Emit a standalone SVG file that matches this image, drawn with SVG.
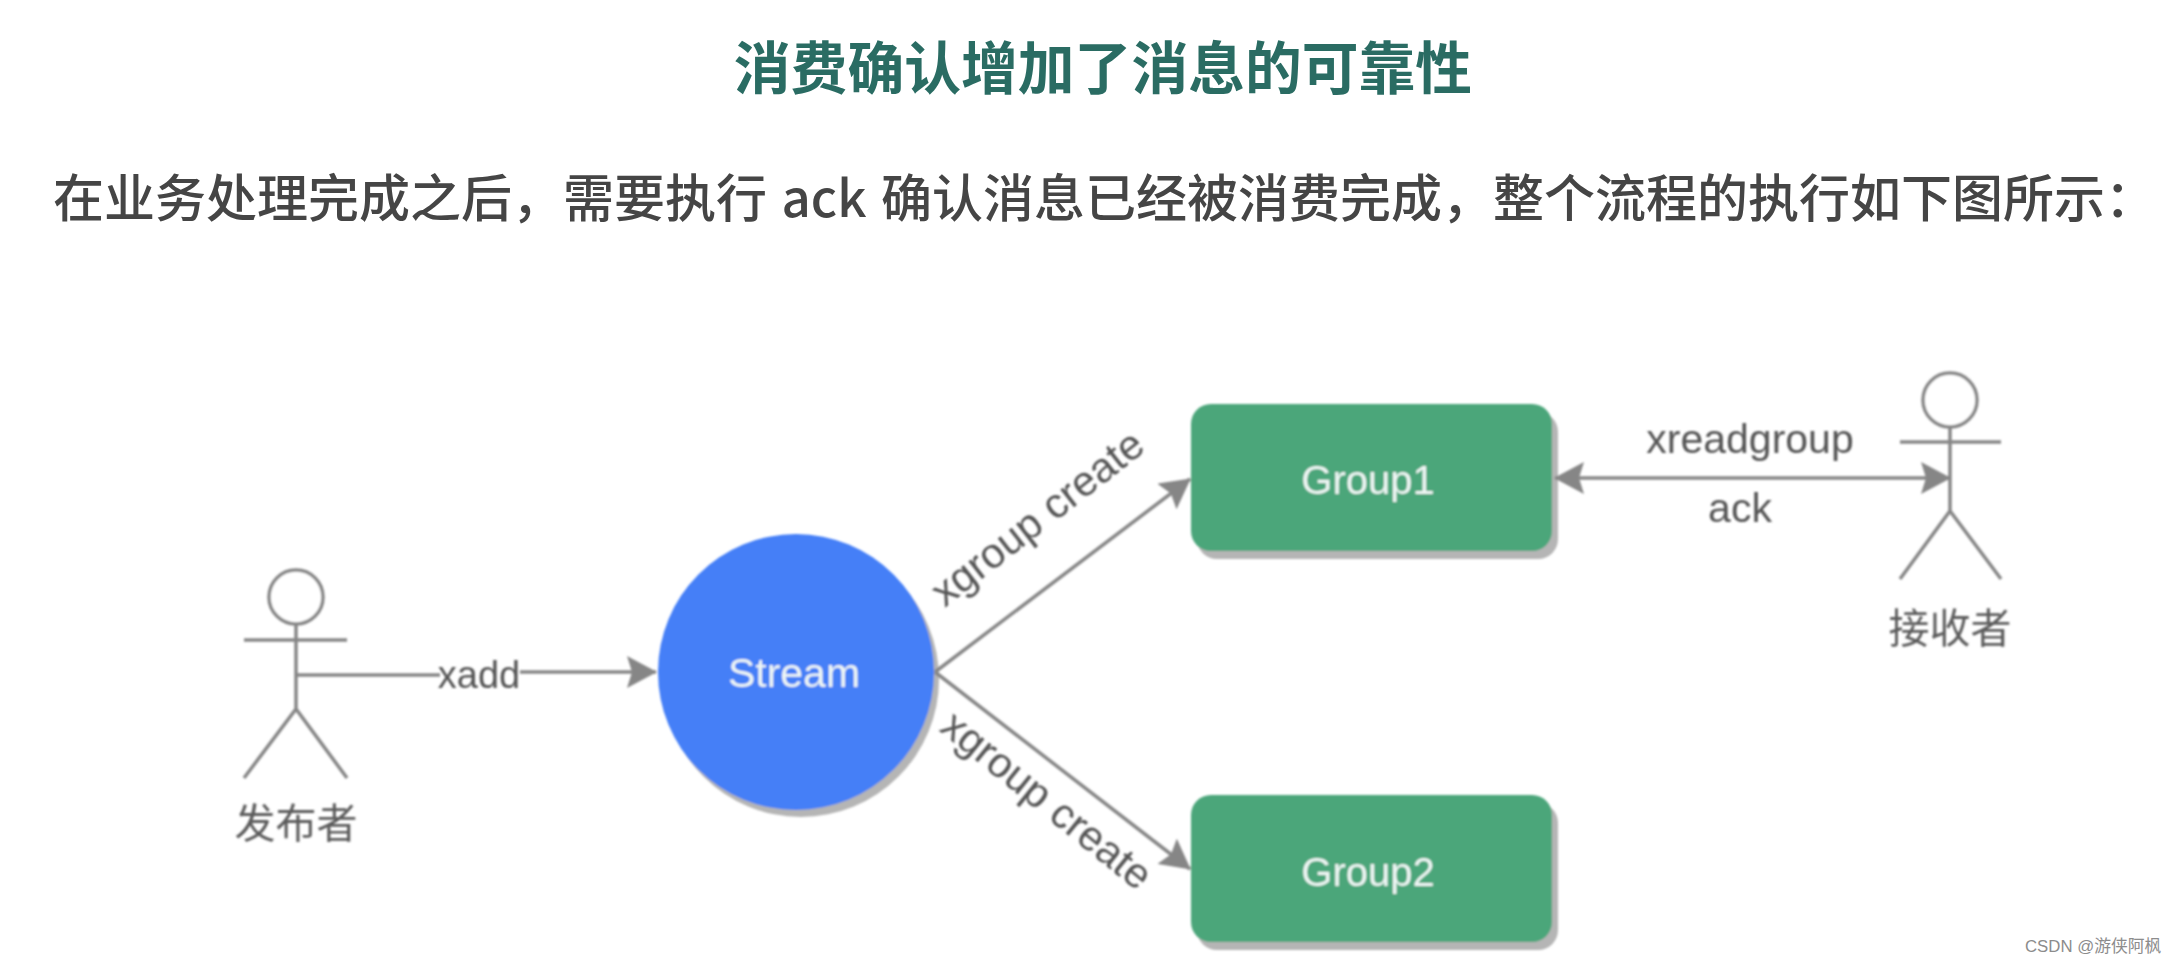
<svg xmlns="http://www.w3.org/2000/svg" width="2176" height="964" viewBox="0 0 2176 964">
<style>
text{font-family:"Liberation Sans","Noto Sans CJK SC",sans-serif}
.cjk{font-family:"Noto Sans CJK SC",sans-serif}
.lbl{font-size:38px;fill:#555;text-anchor:middle}
.lbl2{font-size:41px;fill:#555;text-anchor:middle}
.lbl3{font-size:42px;fill:#555;text-anchor:middle}
.wt{font-size:40px;fill:#eef6f4;text-anchor:middle}
.actor{fill:#5c5c5c;font-size:41px;text-anchor:middle}
.stick{fill:#fff;stroke:#868686;stroke-width:3.5}
.stick2{fill:none;stroke:#868686;stroke-width:3.5}
.conn{fill:none;stroke:#868686;stroke-width:3.5}
.grp{fill:#4ba67a}
.shadow{fill:#b5b5b5}
</style>
<defs>
<marker id="end" markerUnits="userSpaceOnUse" markerWidth="30" markerHeight="32" refX="29" refY="16" orient="auto"><path d="M0 0L30 16L0 32L5 16Z" fill="#868686"/></marker>
<marker id="start" markerUnits="userSpaceOnUse" markerWidth="30" markerHeight="32" refX="1" refY="16" orient="auto"><path d="M30 0L0 16L30 32L25 16Z" fill="#868686"/></marker>
<filter id="soft" x="-5%" y="-5%" width="110%" height="110%"><feGaussianBlur stdDeviation="0.8"/></filter>
</defs>
<rect width="2176" height="964" fill="#fff"/>
<g id="heading">
<text class="cjk" x="1103" y="89" font-size="56.8" font-weight="700" fill="#2a6c63" text-anchor="middle">消费确认增加了消息的可靠性</text>
<text class="cjk" x="53" y="217" font-size="51" font-weight="500" word-spacing="3" fill="#454545">在业务处理完成之后，需要执行 ack 确认消息已经被消费完成，整个流程的执行如下图所示：</text>
</g>
<g filter="url(#soft)">
<g id="publisher">
<circle class="stick" cx="296" cy="597" r="27"/>
<path class="stick2" d="M296 624V709M244 640H347M244 778L296 709L347 778"/>
<text class="actor" x="296" y="838">发布者</text>
</g>
<g id="stream">
<circle class="shadow" cx="801" cy="679" r="138"/>
<circle cx="796" cy="672" r="138" fill="#457ff7"/>
<text class="wt" x="794" y="687" style="font-size:41px">Stream</text>
</g>
<g id="group1">
<rect class="shadow" x="1197" y="412" width="361" height="147" rx="20"/>
<rect class="grp" x="1191" y="404" width="361" height="147" rx="20"/>
<text class="wt" x="1368" y="494">Group1</text>
</g>
<g id="group2">
<rect class="shadow" x="1197" y="803" width="361" height="147" rx="20"/>
<rect class="grp" x="1191" y="795" width="361" height="147" rx="20"/>
<text class="wt" x="1368" y="886">Group2</text>
</g>
<g id="receiver">
<circle class="stick" cx="1950" cy="400" r="27"/>
<path class="stick2" d="M1950 427V511M1900 442H2001M1900 579L1950 511L2001 579"/>
<text class="actor" x="1950" y="643">接收者</text>
</g>
<g id="connectors">
<path class="conn" d="M296 675L440 675M520 672L656 672" marker-end="url(#end)"/>
<path class="conn" d="M935 672L1190 479" marker-end="url(#end)"/>
<path class="conn" d="M935 672L1190 869" marker-end="url(#end)"/>
<path class="conn" d="M1555 478L1950 478" marker-start="url(#start)" marker-end="url(#end)"/>
</g>
<g id="labels">
<text class="lbl" x="479" y="688">xadd</text>
<text class="lbl2" x="1750" y="453">xreadgroup</text>
<text class="lbl2" x="1740" y="522">ack</text>
<text class="lbl3" transform="translate(1046 529) rotate(-38)" x="0" y="0">xgroup create</text>
<text class="lbl3" transform="translate(1038 811) rotate(39)" x="0" y="0">xgroup create</text>
</g>
</g>
<text id="watermark" x="2025" y="952" font-size="16.8" fill="#8c8c8c">CSDN @<tspan class="cjk">游侠阿枫</tspan></text>
</svg>
